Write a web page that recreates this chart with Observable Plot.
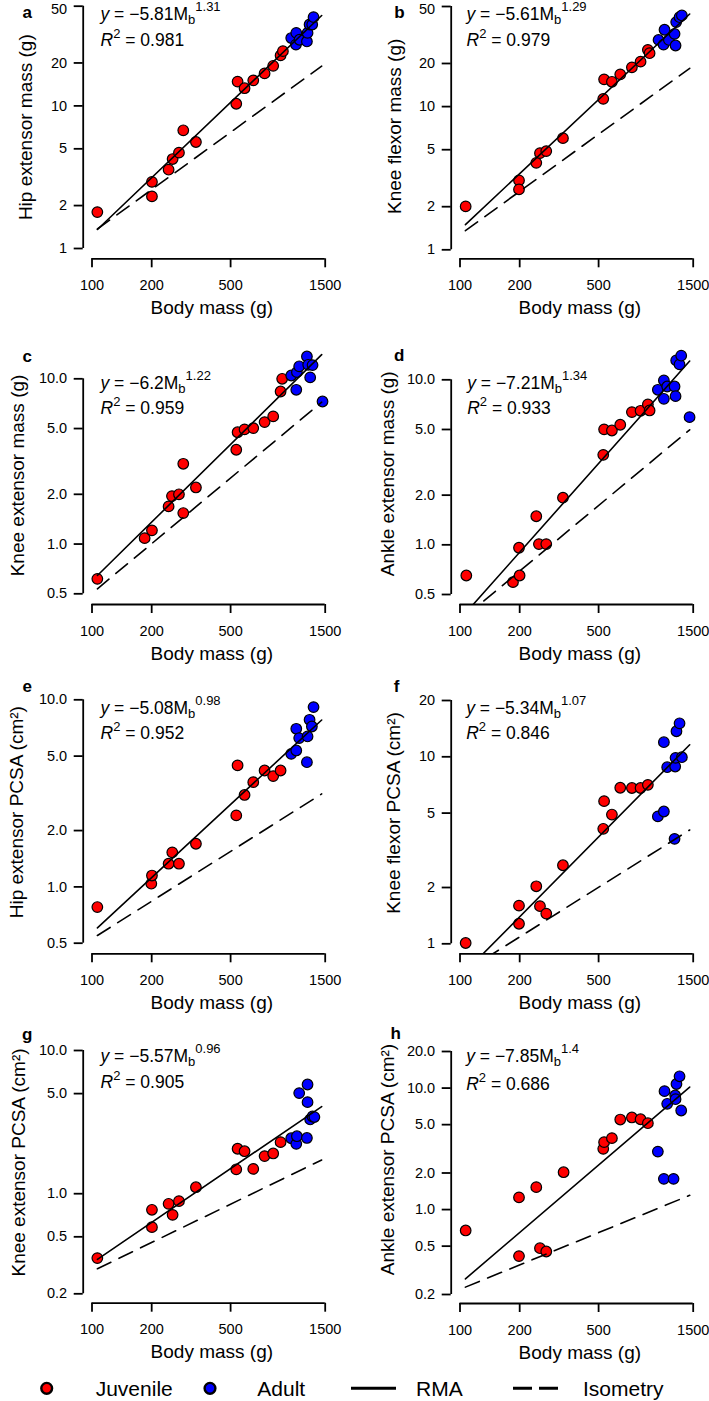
<!DOCTYPE html>
<html>
<head>
<meta charset="utf-8">
<script src="https://cdn.jsdelivr.net/npm/d3@7"></script>
<script src="https://cdn.jsdelivr.net/npm/@observablehq/plot@0.6"></script>
<style>
  body { margin: 0; background: #fff; }
  #fig { position: relative; width: 709px; height: 1401px; overflow: hidden; background: #fff;
         font-family: "Liberation Sans", Arial, Helvetica, sans-serif; }
  #fig svg { position: absolute; overflow: visible; }
</style>
</head>
<body>
<div id="fig"></div>
<script>
// ---------------- DATA ----------------
const panelIds = ["a", "b", "c", "d", "e", "f", "g", "h"];
const yTitles = [
  "Hip extensor mass (g)", "Knee flexor mass (g)",
  "Knee extensor mass (g)", "Ankle extensor mass (g)",
  "Hip extensor PCSA (cm²)", "Knee flexor PCSA (cm²)",
  "Knee extensor PCSA (cm²)", "Ankle extensor PCSA (cm²)"
];
const xTitle = "Body mass (g)";
const eqIntercepts = ["−5.81", "−5.61", "−6.2", "−7.21", "−5.08", "−5.34", "−5.57", "−7.85"];
const eqExponents = ["1.31", "1.29", "1.22", "1.34", "0.98", "1.07", "0.96", "1.4"];
const r2Values = ["0.981", "0.979", "0.959", "0.933", "0.952", "0.846", "0.905", "0.686"];

const xTicks = [100, 200, 500, 1500];
const yTicksA = [1, 2, 5, 10, 20, 50];
const yTicksB = [1, 2, 5, 10, 20, 50];
const yTicksC = [0.5, 1, 2, 5, 10];
const yTicksD = [0.5, 1, 2, 5, 10];
const yTicksE = [0.5, 1, 2, 5, 10];
const yTicksF = [1, 2, 5, 10, 20];
const yTicksG = [0.2, 0.5, 1, 5, 10];
const yTicksH = [0.2, 0.5, 1, 2, 5, 10, 20];
const yTickDecimals = [0, 0, 1, 1, 1, 0, 1, 1];

// [body mass (g), value]
const juvA = [[106.4,1.80],[200.6,2.93],[200.6,2.32],[243.4,3.57],[255,4.24],[274.5,4.70],[288.6,6.74],[334.3,5.58],[534,10.35],[542.3,14.8],[588,13.3],[650.5,15.1],[742,16.9],[820,19.1],[893.5,22.6],[917.8,24.2]];
const adA  = [[1011,29.9],[1072,32.5],[1068,26.9],[1113,29.1],[1213,28.3],[1222,32.5],[1251,37.2],[1290,37.2],[1310,41.9]];
const juvB = [[106.8,2.01],[198.4,3.05],[198.4,2.64],[242.5,4.05],[253.1,4.73],[272.3,4.89],[330.5,6.02],[527.8,11.33],[533,15.5],[583.6,14.9],[643,16.8],[736,18.8],[814,20.6],[886,24.9],[904,23.6]];
const adB  = [[1003,29.2],[1075,34.4],[1063,27.1],[1131,29.2],[1208,32.2],[1222,26.7],[1231,38.9],[1280,42.1],[1315,43.3]];
const juvC = [[106.4,0.616],[184.3,1.086],[200.6,1.21],[243.4,1.69],[253.1,1.95],[274.5,2.00],[288.6,3.06],[288.6,1.54],[334.3,2.20],[534,3.72],[542.3,4.75],[588,4.94],[650.5,5.03],[742,5.47],[820,5.92],[893.5,8.38],[910,10.0]];
const adC  = [[1011,10.47],[1072,8.58],[1080,10.97],[1109,11.9],[1213,13.65],[1231,12.15],[1260,10.2],[1295,12.1],[1454,7.29]];
const juvD = [[107.6,0.652],[185,0.594],[198.4,0.96],[199.8,0.652],[242.5,1.49],[250,1.01],[272.3,1.01],[330.5,1.93],[527.8,3.51],[533,5.01],[583.6,4.93],[643,5.34],[736,6.37],[814,6.49],[886,7.09],[904,6.52]];
const adD  = [[995,8.7],[1067,9.91],[1067,7.67],[1109,9.11],[1208,9.11],[1222,7.96],[1231,13.1],[1280,12.4],[1305,14.0],[1438,5.94]];
const juvE = [[106.4,0.78],[199.1,1.04],[200.6,1.15],[243.4,1.33],[254,1.53],[274.5,1.33],[334.3,1.70],[534,2.41],[542.3,4.46],[588,3.10],[650.5,3.63],[742,4.19],[820,3.91],[893.5,4.19]];
const adE  = [[1011,5.14],[1072,5.36],[1072,7.0],[1109,6.24],[1213,4.64],[1222,6.37],[1251,7.82],[1285,7.2],[1310,9.14]];
const juvF = [[106.8,1.01],[198.4,1.60],[198.4,1.28],[242.5,2.03],[253.1,1.59],[272.3,1.45],[330.5,2.63],[527.8,4.12],[533,5.79],[583.6,4.91],[643,6.83],[736,6.81],[814,6.81],[886,7.08]];
const adF  = [[995,4.8],[1067,5.1],[1067,11.97],[1109,8.8],[1208,3.64],[1217,8.87],[1222,9.87],[1235,13.7],[1280,15.1],[1315,9.95]];
const juvG = [[106.4,0.355],[200.6,0.772],[200.6,0.584],[243.4,0.85],[255,0.712],[274.5,0.887],[334.3,1.11],[534,1.48],[542.3,2.06],[588,1.98],[650.5,1.49],[742,1.83],[820,1.91],[893.5,2.29]];
const adG  = [[1011,2.44],[1072,2.23],[1080,2.52],[1109,5.04],[1213,2.45],[1222,5.79],[1222,4.36],[1260,3.3],[1295,3.46],[1323,3.43]];
const juvH = [[106.8,0.673],[198.4,1.26],[198.4,0.414],[242.5,1.53],[253.1,0.481],[272.3,0.452],[333,2.03],[527.8,3.16],[533,3.59],[583.6,3.87],[643,5.51],[736,5.73],[814,5.54],[886,5.14]];
const adH  = [[995,3.0],[1067,1.79],[1075,9.43],[1109,7.42],[1194,1.79],[1217,8.69],[1222,8.1],[1235,10.8],[1280,12.5],[1305,6.54]];

// fitted lines: [[x0,y0],[x1,y1]]
const rmaA = [[106.5,1.36],[1440,43.0]];   const isoA = [[106.5,1.37],[1440,19.0]];
const rmaB = [[106.5,1.50],[1440,44.3]];   const isoB = [[106.5,1.36],[1440,18.5]];
const rmaC = [[106.5,0.645],[1440,14.0]];  const isoC = [[106.5,0.536],[1440,7.22]];
const rmaD = [[106.5,0.385],[1440,13.0]];  const isoD = [[106.5,0.369],[1440,4.98]];
const rmaE = [[106.5,0.604],[1440,7.8]];   const isoE = [[106.5,0.55],[1440,3.14]];
const rmaF = [[106.5,0.71],[1440,11.6]];   const isoF = [[106.5,0.715],[1440,4.06]];
const rmaG = [[106.5,0.348],[1440,4.06]];  const isoG = [[106.5,0.299],[1440,1.72]];
const rmaH = [[106.5,0.269],[1440,10.2]];  const isoH = [[106.5,0.23],[1440,1.31]];

const legendLabels = ["Juvenile", "Adult", "RMA", "Isometry"];

// ---------------- STYLE / LAYOUT ----------------
const RED = "#ff0000", BLUE = "#0000ff";
const FONT = '"Liberation Sans", Arial, Helvetica, sans-serif';
const colX = [0, 368], colW = [368, 341], rowY = [0, 330, 660, 990];
const FRAME_LEFT = 82.7, FRAME_RIGHT = 340, X_RANGE = [91.5, 324.7], SVG_H = 395;
const TICK = 9, YPAD = 7, XPAD = 12, MIN_LABEL_Y = 8.8;
const layout = [
  {col:0,row:0,yBot:248,  yTop:5.7, axis:258.3,label:[26.7,12],  eq:[100,19.5,45],  yt:[25,126.7]},
  {col:1,row:0,yBot:249.3,yTop:6,   axis:258.3,label:[31,12],    eq:[98,19.3,45],   yt:[26.8,125.8]},
  {col:0,row:1,yBot:263.3,yTop:48.3,axis:274,  label:[26.7,25.7],eq:[100,58.3,83.3],yt:[17.5,145]},
  {col:1,row:1,yBot:264,  yTop:49.3,axis:274,  label:[30.7,25],  eq:[98.7,58.3,83.3],yt:[19.3,143.3]},
  {col:0,row:2,yBot:282.7,yTop:39.3,axis:293.3,label:[26.7,25.8],eq:[100,53.3,78.3],yt:[16.7,151.7]},
  {col:1,row:2,yBot:283.3,yTop:40,  axis:293.3,label:[28,26],    eq:[97.7,53.3,78.3],yt:[25.2,152.5]},
  {col:0,row:3,yBot:303.3,yTop:60,  axis:312.7,label:[26.7,44],  eq:[100,71.7,97.3],yt:[18.3,172]},
  {col:1,row:3,yBot:304,  yTop:61,  axis:313,  label:[27.3,43.5],eq:[97.7,71.7,99], yt:[19.3,169]}
];

const yTickSets = [yTicksA, yTicksB, yTicksC, yTicksD, yTicksE, yTicksF, yTicksG, yTicksH];
const juvSets = [juvA, juvB, juvC, juvD, juvE, juvF, juvG, juvH];
const adSets = [adA, adB, adC, adD, adE, adF, adG, adH];
const rmaSets = [rmaA, rmaB, rmaC, rmaD, rmaE, rmaF, rmaG, rmaH];
const isoSets = [isoA, isoB, isoC, isoD, isoE, isoF, isoG, isoH];

const fig = document.getElementById("fig");

function makePanel(i) {
  const L = layout[i];
  const W = colW[L.col];
  const yt = yTickSets[i];
  const top = yt[yt.length - 1];
  const fmt = yTickDecimals[i] ? d3.format(".1f") : (d => String(d));
  const topShift = Math.max(0, MIN_LABEL_Y - L.yTop); // keep the top tick label inside the page
  const eq1 = `y = ${eqIntercepts[i]}Mb${eqExponents[i]}`;
  const eq2 = `R2 = ${r2Values[i]}`;
  const px = d => d[0], py = d => d[1];
  const axisMarks = topShift > 0
    ? [
        Plot.axisY({ticks: yt, tickFormat: d => d === top ? "" : fmt(d), tickSize: TICK, tickPadding: YPAD, strokeWidth: 1.8, label: null}),
        Plot.axisY({ticks: [top], tickFormat: fmt, tickSize: 0, tickPadding: TICK + YPAD, dy: topShift, label: null})
      ]
    : [Plot.axisY({ticks: yt, tickFormat: fmt, tickSize: TICK, tickPadding: YPAD, strokeWidth: 1.8, label: null})];
  const svg = Plot.plot({
    width: W, height: SVG_H,
    marginLeft: FRAME_LEFT, marginRight: W - FRAME_RIGHT, marginTop: 0, marginBottom: SVG_H - L.axis,
    style: {background: "transparent", fontFamily: FONT, fontSize: "14.5px", color: "black", overflow: "visible"},
    x: {type: "log", domain: [xTicks[0], xTicks[xTicks.length - 1]], range: X_RANGE},
    y: {type: "log", domain: [yt[0], top], range: [L.yBot, L.yTop]},
    marks: [
      Plot.ruleX([xTicks[0]], {y1: yt[0], y2: top, dx: FRAME_LEFT - X_RANGE[0], stroke: "black", strokeWidth: 1.8}),
      Plot.ruleY([yt[0]], {x1: xTicks[0], x2: xTicks[xTicks.length - 1], dy: L.axis - L.yBot, stroke: "black", strokeWidth: 1.8}),
      ...axisMarks,
      Plot.axisX({ticks: xTicks, tickFormat: d => String(d), tickSize: TICK, tickPadding: XPAD, strokeWidth: 1.8, label: null}),
      Plot.dot(juvSets[i], {x: px, y: py, r: 5.3, fill: RED, stroke: "black", strokeWidth: 1.2}),
      Plot.dot(adSets[i], {x: px, y: py, r: 5.3, fill: BLUE, stroke: "black", strokeWidth: 1.2}),
      Plot.line(rmaSets[i], {x: px, y: py, stroke: "black", strokeWidth: 1.6, clip: true}),
      Plot.line(isoSets[i], {x: px, y: py, stroke: "black", strokeWidth: 1.6, strokeDasharray: "15,9", clip: true}),
      Plot.text([xTitle], {frameAnchor: "bottom", textAnchor: "middle", lineAnchor: "middle", dy: 49, fontSize: 19}),
      Plot.text([yTitles[i]], {frameAnchor: "left", textAnchor: "middle", lineAnchor: "middle", rotate: -90,
        dx: L.yt[0] - FRAME_LEFT, dy: L.yt[1] - L.axis / 2, fontSize: 19}),
      Plot.text([panelIds[i]], {frameAnchor: "top-left", textAnchor: "middle", lineAnchor: "middle",
        dx: L.label[0] - FRAME_LEFT, dy: L.label[1], fontSize: 17, fontWeight: "bold"}),
      Plot.text([eq1], {frameAnchor: "top-left", textAnchor: "start", lineAnchor: "bottom",
        dx: L.eq[0] - FRAME_LEFT, dy: L.eq[1], fontSize: 17.5}),
      Plot.text([eq2], {frameAnchor: "top-left", textAnchor: "start", lineAnchor: "bottom",
        dx: L.eq[0] - FRAME_LEFT, dy: L.eq[2], fontSize: 17.5})
    ]
  });
  svg.style.left = colX[L.col] + "px";
  svg.style.top = rowY[L.row] + "px";
  // rich text for the equations (italic, subscript, superscript)
  d3.select(svg).selectAll("text").each(function () {
    const t = d3.select(this);
    const s = this.textContent;
    if (s === eq1) {
      t.text(null);
      t.append("tspan").attr("font-style", "italic").text("y");
      t.append("tspan").text(` = ${eqIntercepts[i]}M`);
      t.append("tspan").attr("font-size", "13px").attr("dy", 4).text("b");
      t.append("tspan").attr("font-size", "13px").attr("dy", -13).text(eqExponents[i]);
    } else if (s === eq2) {
      t.text(null);
      t.append("tspan").attr("font-style", "italic").text("R");
      t.append("tspan").attr("font-size", "13px").attr("dy", -8).text("2");
      t.append("tspan").attr("dy", 8).text(` = ${r2Values[i]}`);
    }
  });
  fig.appendChild(svg);
}

for (let i = 0; i < 8; i++) makePanel(i);

// ---------------- LEGEND ----------------
const leg = d3.select(fig).append("svg")
  .attr("width", 709).attr("height", 40)
  .style("left", "0px").style("top", "1368px")
  .attr("font-family", FONT).attr("font-size", 21);
const cy = 20.3;
leg.append("circle").attr("cx", 46.7).attr("cy", cy).attr("r", 5.4).attr("fill", RED).attr("stroke", "black").attr("stroke-width", 2.4);
leg.append("text").attr("x", 95.7).attr("y", cy).attr("dy", "0.36em").text(legendLabels[0]);
leg.append("circle").attr("cx", 210).attr("cy", cy).attr("r", 5.4).attr("fill", BLUE).attr("stroke", "black").attr("stroke-width", 2.4);
leg.append("text").attr("x", 257.3).attr("y", cy).attr("dy", "0.36em").text(legendLabels[1]);
leg.append("line").attr("x1", 351).attr("x2", 396).attr("y1", cy).attr("y2", cy).attr("stroke", "black").attr("stroke-width", 3);
leg.append("text").attr("x", 416).attr("y", cy).attr("dy", "0.36em").text(legendLabels[2]);
leg.append("line").attr("x1", 513).attr("x2", 558).attr("y1", cy).attr("y2", cy).attr("stroke", "black").attr("stroke-width", 3).attr("stroke-dasharray", "19,7");
leg.append("text").attr("x", 583).attr("y", cy).attr("dy", "0.36em").text(legendLabels[3]);
</script>
</body>
</html>
